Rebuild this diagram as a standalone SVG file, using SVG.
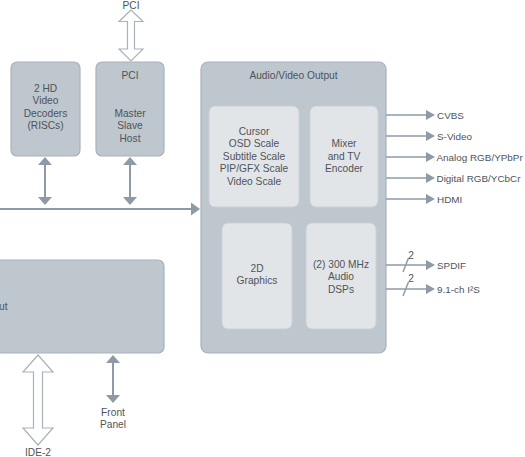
<svg xmlns="http://www.w3.org/2000/svg" width="525" height="457" viewBox="0 0 525 457">
<style>
.box{fill:#bec6ce;stroke:#a9b2bb;stroke-width:1.2}
.inner{fill:#e2e5e8;stroke:#ccd1d6;stroke-width:1}
text{font-family:"Liberation Sans",Arial,sans-serif;font-size:10.2px;fill:#4f545a;text-anchor:middle}
.lbl{text-anchor:start}
.out{text-anchor:start;font-size:9.9px}
.ln{stroke:#8e9ba7;stroke-width:2;fill:none}
.ln1{stroke:#8e9ba7;stroke-width:1.5;fill:none}
.hd{fill:#8e9ba7}
.hollow{fill:#ffffff;stroke:#a9b2bb;stroke-width:1.2}
</style>
<rect width="525" height="457" fill="#ffffff"/>

<g id="decoders">
<rect class="box" x="11" y="62" width="69" height="94" rx="6"/>
<text x="45.5" y="91.5">2 HD</text>
<text x="45.5" y="104">Video</text>
<text x="45.5" y="116.5">Decoders</text>
<text x="45.5" y="129">(RISCs)</text>
</g>

<g id="pci">
<rect class="box" x="96" y="62" width="68" height="94" rx="6"/>
<text x="130" y="78.5">PCI</text>
<text x="130" y="116.5">Master</text>
<text x="130" y="129">Slave</text>
<text x="130" y="141.5">Host</text>
</g>

<g id="av-output">
<rect class="box" x="201" y="62" width="185" height="291" rx="7"/>
<text x="293.5" y="78.5">Audio/Video Output</text>
</g>

<g id="scalers">
<rect class="inner" x="209" y="106" width="90" height="101" rx="6"/>
<text x="254" y="134.5">Cursor</text>
<text x="254" y="147">OSD Scale</text>
<text x="254" y="159.5">Subtitle Scale</text>
<text x="254" y="172">PIP/GFX Scale</text>
<text x="254" y="184.5">Video Scale</text>
</g>

<g id="mixer">
<rect class="inner" x="310" y="106" width="68" height="101" rx="6"/>
<text x="344" y="147">Mixer</text>
<text x="344" y="159.5">and TV</text>
<text x="344" y="172">Encoder</text>
</g>

<g id="graphics2d">
<rect class="inner" x="222" y="223" width="70" height="106" rx="6"/>
<text x="257" y="271.5">2D</text>
<text x="257" y="284">Graphics</text>
</g>

<g id="dsps">
<rect class="inner" x="306" y="223" width="70" height="106" rx="6"/>
<text x="341" y="267.5">(2) 300 MHz</text>
<text x="341" y="280">Audio</text>
<text x="341" y="292.5">DSPs</text>
</g>

<g id="io-block">
<rect class="box" x="-20" y="260" width="184" height="93" rx="6"/>
<text class="lbl" x="-1" y="309.5">ut</text>
</g>

<g id="connectors">
<polygon class="hollow" points="131,10 119,21.5 127.5,21.5 127.5,49 119,49 131,61 143,49 134.5,49 134.5,21.5 143,21.5"/>
<text x="131" y="8.5">PCI</text>

<line class="ln" x1="45" y1="163" x2="45" y2="199"/>
<polygon class="hd" points="45,157 38,165 52,165"/>
<polygon class="hd" points="45,205 38,197 52,197"/>
<line class="ln" x1="130" y1="163" x2="130" y2="199"/>
<polygon class="hd" points="130,157 123,165 137,165"/>
<polygon class="hd" points="130,205 123,197 137,197"/>

<line class="ln" x1="0" y1="209" x2="193" y2="209"/>
<polygon class="hd" points="191,202.5 200,209 191,215.5"/>

<line class="ln1" x1="386" y1="115" x2="427" y2="115"/>
<polygon class="hd" points="426,110 435,115 426,120"/>
<line class="ln1" x1="386" y1="136" x2="427" y2="136"/>
<polygon class="hd" points="426,131 435,136 426,141"/>
<line class="ln1" x1="386" y1="157" x2="427" y2="157"/>
<polygon class="hd" points="426,152 435,157 426,162"/>
<line class="ln1" x1="386" y1="178" x2="427" y2="178"/>
<polygon class="hd" points="426,173 435,178 426,183"/>
<line class="ln1" x1="386" y1="199" x2="427" y2="199"/>
<polygon class="hd" points="426,194 435,199 426,204"/>
<line class="ln1" x1="386" y1="265" x2="427" y2="265"/>
<polygon class="hd" points="426,260 435,265 426,270"/>
<line class="ln1" x1="386" y1="289" x2="427" y2="289"/>
<polygon class="hd" points="426,284 435,289 426,294"/>
<line class="ln1" x1="403" y1="272" x2="408.5" y2="258"/>
<line class="ln1" x1="403" y1="296" x2="408.5" y2="282"/>
<text x="411" y="258.5">2</text>
<text x="411" y="281.5">2</text>

<text class="out" x="437" y="118.5">CVBS</text>
<text class="out" x="437" y="139.5">S-Video</text>
<text class="out" x="436.5" y="160.5">Analog RGB/YPbPr</text>
<text class="out" x="436.5" y="181.5">Digital RGB/YCbCr</text>
<text class="out" x="437" y="202.5">HDMI</text>
<text class="out" x="437" y="268.5">SPDIF</text>
<text class="out" x="437" y="292.5">9.1-ch I²S</text>

<polygon class="hollow" points="38,355 23,372 33.5,372 33.5,428 23,428 38,445 53,428 42.5,428 42.5,372 53,372"/>
<text x="38" y="456">IDE-2</text>

<line class="ln" x1="113" y1="362" x2="113" y2="396"/>
<polygon class="hd" points="113,355 106,363 120,363"/>
<polygon class="hd" points="113,403 106,395 120,395"/>
<text x="113" y="415.5">Front</text>
<text x="113" y="427.5">Panel</text>
</g>
</svg>
